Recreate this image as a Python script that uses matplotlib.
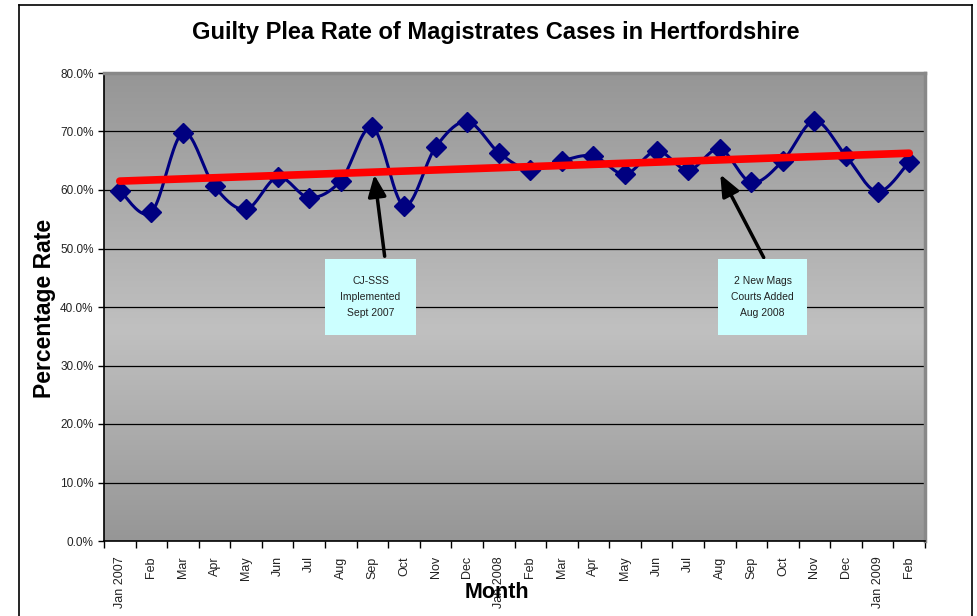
import numpy as np
import matplotlib
matplotlib.use("Agg")
import matplotlib.pyplot as plt
from matplotlib.patches import Rectangle
from matplotlib.lines import Line2D

plt.rcParams['font.family'] = ['Liberation Sans', 'DejaVu Sans']

months = ["Jan 2007", "Feb", "Mar", "Apr", "May", "Jun", "Jul", "Aug", "Sep", "Oct", "Nov", "Dec",
          "Jan 2008", "Feb", "Mar", "Apr", "May", "Jun", "Jul", "Aug", "Sep", "Oct", "Nov", "Dec",
          "Jan 2009", "Feb"]
rate = [59.9, 56.2, 69.8, 60.6, 56.7, 62.2, 58.7, 61.6, 70.7, 57.3, 67.3, 71.7,
        66.4, 63.4, 65.0, 65.8, 62.7, 66.7, 63.4, 67.0, 61.3, 65.0, 71.8, 65.8,
        59.7, 64.8]
yticks = [0, 10, 20, 30, 40, 50, 60, 70, 80]
notes = [("CJ-SSS\nImplemented\nSept 2007", 8), ("2 New Mags\nCourts Added\nAug 2008", 19)]

x = np.arange(len(rate))
y = np.array(rate)

# Smoothed line (Catmull-Rom through the points)
def catmull(xs, ys, n=20):
    px = np.concatenate([[xs[0]], xs, [xs[-1]]])
    py = np.concatenate([[ys[0]], ys, [ys[-1]]])
    ox, oy = [], []
    t = np.linspace(0, 1, n, endpoint=False)
    for i in range(1, len(px) - 2):
        for arr_p, arr_o in (((px[i-1], px[i], px[i+1], px[i+2]), ox), ((py[i-1], py[i], py[i+1], py[i+2]), oy)):
            a0, a1, a2, a3 = arr_p
            arr_o.extend(0.5 * ((2*a1) + (-a0 + a2)*t + (2*a0 - 5*a1 + 4*a2 - a3)*t**2 + (-a0 + 3*a1 - 3*a2 + a3)*t**3))
    ox.append(xs[-1]); oy.append(ys[-1])
    return np.array(ox), np.array(oy)

sx, sy = catmull(x.astype(float), y)

fig = plt.figure(figsize=(9.77, 6.16), dpi=100)
ax = fig.add_axes([104/977, 1-541/616, 821/977, 468/616])
ax.set_xlim(-0.5, len(rate) - 0.5)
ax.set_ylim(0, 80)

# gradient background
g = np.linspace(0, 1, 256)
vals = np.where(g < 0.45, 150 + (192-150)*(g/0.45), 192 - (192-150)*((g-0.45)/0.55))
img = np.repeat((vals/255.0)[:, None], 2, axis=1)
ax.imshow(np.dstack([img, img, img]), extent=[-0.5, len(rate)-0.5, 80, 0], aspect='auto', zorder=0, origin='upper')

for v in yticks[1:]:
    ax.axhline(v, color='black', lw=0.9, zorder=1)

ax.plot(sx, sy, color='#000080', lw=2.2, zorder=3)
ax.plot(x, y, ls='none', marker='D', ms=10, color='#000080', zorder=4)

k, b = np.polyfit(x, y, 1)
ax.plot([x[0], x[-1]], [k*x[0]+b, k*x[-1]+b], color='#ff0000', lw=5.5, solid_capstyle='round', zorder=5)

ax.set_yticks(yticks)
ax.set_yticklabels([f"{v:.1f}%" for v in yticks], fontsize=8.5, color='#222222')
ax.set_xticks(x)
ax.set_xticklabels(months, rotation=90, fontsize=9, color='#222222')
ax.set_xticks(np.arange(-0.5, len(rate), 1), minor=True)
ax.tick_params(axis='x', which='major', length=0, pad=11)
ax.tick_params(axis='x', which='minor', length=5, direction='out', width=1)
ax.tick_params(axis='y', length=4, direction='out', width=1)

for s in ['left', 'bottom']:
    ax.spines[s].set_color('black'); ax.spines[s].set_linewidth(1.2)
for s in ['top', 'right']:
    ax.spines[s].set_color('#888888'); ax.spines[s].set_linewidth(2.5)

# annotations
boxes = {8: (325, 416, (385, 259), (374, 172)), 19: (718, 807, (765, 260), (719, 172))}
for txt, idx in notes:
    bx0, bx1, tail, tip = boxes[idx]
    fig.patches.append(Rectangle((bx0/977, 1-335/616), (bx1-bx0)/977, 76/616, transform=fig.transFigure,
                                 facecolor='#ccffff', edgecolor='none', zorder=6))
    fig.text((bx0+bx1)/2/977, 1-297/616, txt, ha='center', va='center', fontsize=7.5, linespacing=1.75,
             color='#222222', zorder=7, family=['Liberation Sans Narrow', 'Liberation Sans'])
    ax.annotate('', xy=(tip[0]/977, 1-tip[1]/616), xycoords='figure fraction',
                xytext=(tail[0]/977, 1-tail[1]/616), textcoords='figure fraction',
                arrowprops=dict(arrowstyle='-|>,head_length=1.3,head_width=0.55', color='black', lw=2.5),
                zorder=8, annotation_clip=False)

fig.text(496/977, 1-33/616, "Guilty Plea Rate of Magistrates Cases in Hertfordshire",
         ha='center', va='center', fontsize=17, fontweight='bold')
fig.text(45/977, 1-308/616, "Percentage Rate", rotation=90, ha='center', va='center',
         fontsize=16.5, fontweight='bold')
fig.text(497/977, 1-593/616, "Month", ha='center', va='center', fontsize=15.5, fontweight='bold', zorder=10)

fig.add_artist(Line2D([19/977, 19/977], [0, 1-5/616], color='black', lw=1.2, transform=fig.transFigure))
fig.add_artist(Line2D([972/977, 972/977], [0, 1-5/616], color='black', lw=1.2, transform=fig.transFigure))
fig.add_artist(Line2D([19/977, 972/977], [1-5/616, 1-5/616], color='black', lw=1.2, transform=fig.transFigure))

fig.savefig("out.png", dpi=100)
